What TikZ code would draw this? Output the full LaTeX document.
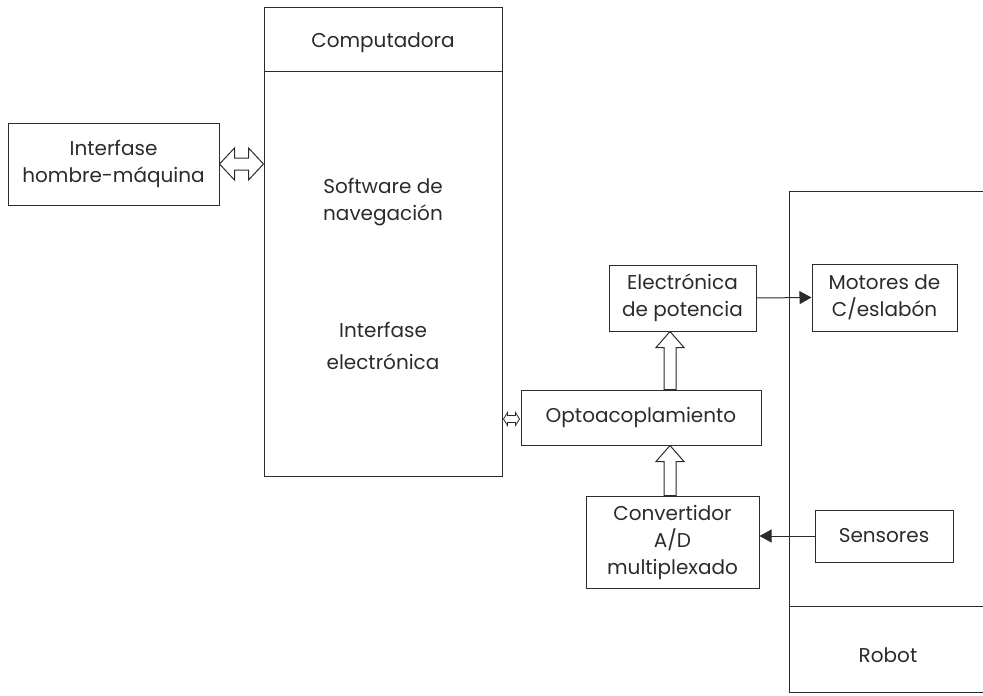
\documentclass[tikz,border=0pt]{standalone}
\usepackage{fontspec}
\setmainfont{Poppins}
\usetikzlibrary{calc,arrows.meta}
\definecolor{ink}{HTML}{2B2B2B}
\tikzset{
  box/.style={draw=ink, line width=1pt, rectangle, inner sep=0pt, align=center, text=ink},
  lbl/.style={inner sep=0pt, align=center, text=ink},
  conn/.style={draw=ink, line width=1pt, -{Triangle[length=12pt,width=13pt]}},
  hollow/.style={draw=ink, line width=1pt, fill=white, line join=miter},
}
\begin{document}
\begin{tikzpicture}[x=1pt,y=-1pt,font=\fontsize{20}{27}\selectfont]
\useasboundingbox (0,0) rectangle (983,696);
% computer
\node[box, minimum width=238pt, minimum height=469pt] (comp) at (383,241.5) {};
\coordinate (cdl) at (264,71);
\coordinate (cdr) at (502,71);
\draw[ink, line width=1pt] (cdl) -- (cdr);
\node[lbl] (comptxt) at (383,43) {Computadora};
\node[lbl] (soft) at (383,202) {Software de\\navegación};
\node[lbl, font=\fontsize{20}{32}\selectfont] (ielec) at (383,346) {Interfase\\electrónica};
% left box
\node[box, minimum width=211pt, minimum height=82pt] (ihm) at (113.5,164) {Interfase\\hombre-máquina};
% middle boxes
\node[box, minimum width=147pt, minimum height=66pt] (elec) at (682.5,298) {Electrónica\\de potencia};
\node[box, minimum width=240pt, minimum height=55pt] (opto) at (641,417.5) {Optoacoplamiento};
\node[box, minimum width=173pt, minimum height=92pt] (conv) at (672.5,542) {Convertidor\\A/D\\multiplexado};
% robot
\node[box, minimum width=230pt, minimum height=501pt] (robot) at (904,441.5) {};
\coordinate (rdl) at (789,606);
\coordinate (rdr) at (1019,606);
\draw[ink, line width=1pt] (rdl) -- (rdr);
\node[lbl] (robottxt) at (888,655) {Robot};
\node[box, minimum width=145pt, minimum height=67pt] (mot) at (884.5,297.5) {Motores de\\C/eslabón};
\node[box, minimum width=138pt, minimum height=52pt] (sens) at (884,536) {Sensores};
% connectors
\draw[conn] (elec.east) -- (mot.west);
\draw[conn] (sens.west) -- (conv.east |- sens.west);
% hollow double arrow interfase <-> computer
\draw[hollow] let \p1=(ihm.east), \p2=(comp.west |- ihm.east) in
  (\x1,\y1) -- (\x1+15pt,\y1+16pt) -- (\x1+15pt,\y1+6pt) -- (\x2-15pt,\y1+6pt) -- (\x2-15pt,\y1+16pt)
  -- (\x2,\y1) -- (\x2-15pt,\y1-16pt) -- (\x2-15pt,\y1-6pt) -- (\x1+15pt,\y1-6pt) -- (\x1+15pt,\y1-16pt) -- cycle;
% small hollow double arrow computer <-> opto
\draw[hollow, line width=0.8pt] let \p1=(comp.east |- opto.west), \p2=(opto.west) in
  (\x1+1pt,\y1-1.5pt) -- (\x1+5pt,\y1+5pt) -- (\x1+5pt,\y1+2pt) -- (\x2-5pt,\y1+2pt) -- (\x2-5pt,\y1+5pt)
  -- (\x2-1pt,\y1-1.5pt) -- (\x2-5pt,\y1-8pt) -- (\x2-5pt,\y1-5pt) -- (\x1+5pt,\y1-5pt) -- (\x1+5pt,\y1-8pt) -- cycle;
% hollow up arrows
\draw[hollow] let \p1=([xshift=29pt]opto.north), \p2=(elec.south) in
  (\x1-6pt,\y1) -- (\x1-6pt,\y2-16pt) -- (\x1-14pt,\y2-16pt) -- (\x1,\y2) -- (\x1+14pt,\y2-16pt)
  -- (\x1+6pt,\y2-16pt) -- (\x1+6pt,\y1) -- cycle;
\draw[hollow] let \p1=([xshift=-2.5pt]conv.north), \p2=(opto.south) in
  (\x1-6pt,\y1) -- (\x1-6pt,\y2-16pt) -- (\x1-14pt,\y2-16pt) -- (\x1,\y2) -- (\x1+14pt,\y2-16pt)
  -- (\x1+6pt,\y2-16pt) -- (\x1+6pt,\y1) -- cycle;
\end{tikzpicture}
\end{document}
